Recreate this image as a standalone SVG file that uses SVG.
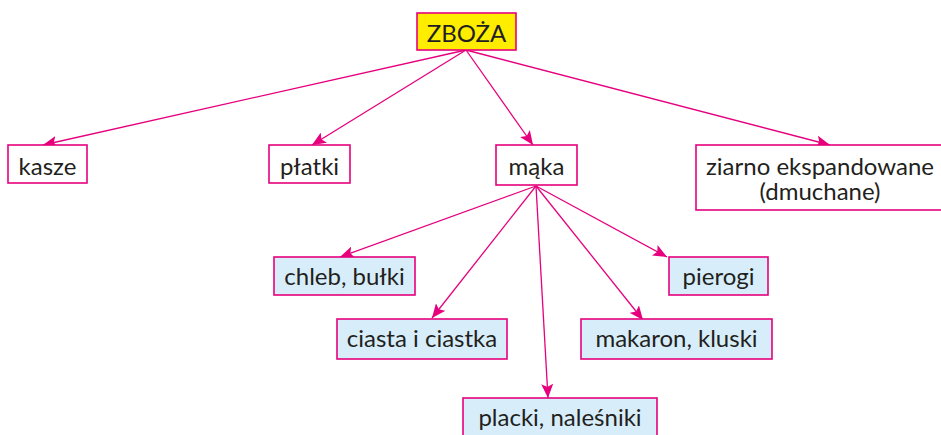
<svg xmlns="http://www.w3.org/2000/svg" width="941" height="435" viewBox="0 0 941 435">
<defs>
<marker id="ah" markerUnits="userSpaceOnUse" markerWidth="16" markerHeight="12" refX="14" refY="6" orient="auto">
<path d="M0,0 L14,6 L0,12 L3,6 Z" fill="#E6007E"/>
</marker>
<style>
.box{fill:#fff;stroke:#E6007E;stroke-width:1.6}
.blue{fill:#D7EEFA;stroke:#E6007E;stroke-width:1.6}
.yel{fill:#FFED00;stroke:#E6007E;stroke-width:1.6}
.t{font-family:Lato,"Open Sans",sans-serif;font-size:24px;fill:#231F20;text-anchor:middle}
.c line{stroke:#E6007E;stroke-width:1.3;marker-end:url(#ah)}
</style>
</defs>
<rect width="941" height="435" fill="#fff"/>
<g class="c" id="connectors">
<line x1="466" y1="50" x2="43" y2="145"/>
<line x1="466" y1="50" x2="312" y2="145"/>
<line x1="466" y1="50" x2="533" y2="145"/>
<line x1="466" y1="50" x2="830" y2="145"/>
<line x1="536" y1="186" x2="340" y2="257"/>
<line x1="536" y1="186" x2="432" y2="318"/>
<line x1="536" y1="186" x2="548" y2="398"/>
<line x1="536" y1="186" x2="643" y2="320"/>
<line x1="536" y1="186" x2="667" y2="257"/>
</g>
<g id="zboza"><rect class="yel" x="417" y="13" width="99" height="37"/><text class="t" x="466.5" y="42">ZBOŻA</text></g>
<g id="kasze"><rect class="box" x="8" y="145" width="79" height="38"/><text class="t" x="47.5" y="175">kasze</text></g>
<g id="platki"><rect class="box" x="269" y="145" width="81" height="38"/><text class="t" x="309.5" y="175">płatki</text></g>
<g id="maka"><rect class="box" x="496" y="145" width="81" height="40"/><text class="t" x="536.5" y="175">mąka</text></g>
<g id="ziarno"><rect class="box" x="696" y="145" width="250" height="65"/><text class="t" x="820" y="175">ziarno ekspandowane</text><text class="t" x="820" y="200">(dmuchane)</text></g>
<g id="chleb"><rect class="blue" x="274" y="257" width="141" height="38"/><text class="t" x="344.5" y="285">chleb, bułki</text></g>
<g id="ciasta"><rect class="blue" x="337" y="319" width="170" height="40"/><text class="t" x="422" y="347">ciasta i ciastka</text></g>
<g id="pierogi"><rect class="blue" x="669" y="257" width="99" height="38"/><text class="t" x="718.5" y="285">pierogi</text></g>
<g id="makaron"><rect class="blue" x="581" y="319" width="191" height="40"/><text class="t" x="676.5" y="347">makaron, kluski</text></g>
<g id="placki"><rect class="blue" x="463" y="398" width="194" height="45"/><text class="t" x="560" y="426">placki, naleśniki</text></g>
</svg>
